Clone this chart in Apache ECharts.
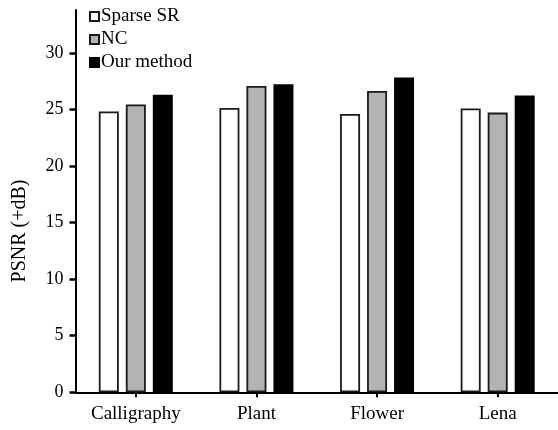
<!DOCTYPE html>
<html>
<head>
<meta charset="utf-8">
<script src="https://cdn.jsdelivr.net/npm/echarts@6/dist/echarts.min.js"></script>
<style>
html,body{margin:0;padding:0;background:#fff;}
#chart{width:558px;height:430px;}
</style>
</head>
<body>
<div id="chart"></div>
<script>
var categories = ['Calligraphy', 'Plant', 'Flower', 'Lena'];
var sparseSR = [24.83, 25.14, 24.61, 25.09];
var nc = [25.45, 27.08, 26.64, 24.73];
var ourMethod = [26.3, 27.23, 27.84, 26.25];
var yTicks = [0, 5, 10, 15, 20, 25, 30];
var yName = 'PSNR (+dB)';

var FONT = '"Liberation Serif", "Times New Roman", serif';
var chart = echarts.init(document.getElementById('chart'), null, {renderer: 'canvas'});
var border = {borderColor: '#1a1a1a', borderWidth: 1.8};
chart.setOption({
  animation: false,
  backgroundColor: '#ffffff',
  textStyle: {fontFamily: FONT, color: '#000'},
  grid: {left: 75.5, top: 10, width: 487, bottom: 37.7, containLabel: false},
  graphic: [{
    type: 'text',
    x: 20,
    y: 231,
    rotation: Math.PI / 2,
    style: {text: yName, font: '20px ' + FONT, fill: '#000', align: 'center', verticalAlign: 'middle'}
  }],
  legend: {
    orient: 'vertical',
    left: 84,
    top: 2,
    itemWidth: 9,
    itemHeight: 9,
    itemGap: 4,
    icon: 'rect',
    textStyle: {fontFamily: FONT, fontSize: 19, color: '#000', lineHeight: 19, padding: [0, 0, 0, -3]},
    data: ['Sparse SR', 'NC', 'Our method']
  },
  xAxis: {
    type: 'category',
    data: categories,
    axisLine: {lineStyle: {color: '#000', width: 2}},
    axisTick: {show: true, alignWithLabel: true, length: 5, lineStyle: {color: '#000', width: 2}},
    axisLabel: {fontFamily: FONT, fontSize: 19, color: '#000', margin: 12}
  },
  yAxis: {
    type: 'value',
    min: 0,
    max: 33.8,
    interval: 5,
    axisLine: {show: true, lineStyle: {color: '#000', width: 2}},
    axisTick: {show: true, length: 6, customValues: yTicks, lineStyle: {color: '#000', width: 2.5}},
    axisLabel: {fontFamily: FONT, fontSize: 18, color: '#000', margin: 12, customValues: yTicks},
    splitLine: {show: false}
  },
  series: [
    {name: 'Sparse SR', type: 'bar', data: sparseSR, barWidth: 20, barGap: '35%',
     itemStyle: Object.assign({color: '#ffffff'}, border)},
    {name: 'NC', type: 'bar', data: nc, barWidth: 20, barGap: '35%',
     itemStyle: Object.assign({color: '#b3b3b3'}, border)},
    {name: 'Our method', type: 'bar', data: ourMethod, barWidth: 20, barGap: '35%',
     itemStyle: {color: '#000000', borderColor: '#000', borderWidth: 1.8}}
  ]
});
</script>
</body>
</html>
